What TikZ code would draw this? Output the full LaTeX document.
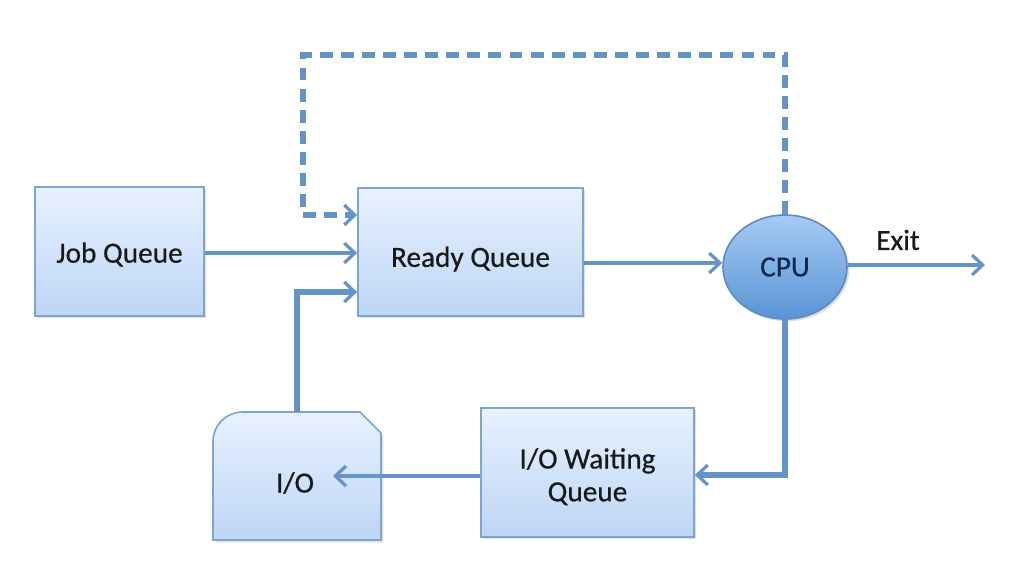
\documentclass[tikz,border=0pt]{standalone}
\usepackage{fontspec}
\setmainfont{Carlito}
\newfontfamily\lblfont{Carlito}[FakeBold=0.5]
\usetikzlibrary{arrows.meta,shadows,shapes.geometric}
\definecolor{ln}{RGB}{100,148,200}
\definecolor{bd}{RGB}{125,165,210}
\definecolor{ftop}{RGB}{232,241,255}
\definecolor{fbot}{RGB}{188,214,245}
\definecolor{ctop}{RGB}{165,203,242}
\definecolor{cbot}{RGB}{88,148,214}
\definecolor{cbd}{RGB}{95,140,195}
\definecolor{tx}{RGB}{25,25,25}
\definecolor{cputx}{RGB}{20,40,80}
\newcommand{\dropby}[2]{\raisebox{-#1}[\height][\depth]{#2}}
\tikzset{
  lbl/.style={font=\lblfont\fontsize{25}{28}\selectfont, text=tx, align=center},
  qbox/.style={draw=bd, line width=1.4pt, top color=ftop, bottom color=fbot, drop shadow={opacity=0.25,shadow xshift=2pt,shadow yshift=-2pt}, lbl, inner sep=0pt},
  conn/.style={draw=ln, line width=2.8pt, -{Straight Barb[length=9pt,width=17pt,line width=2.8pt]}},
  thick conn/.style={conn, line width=4.4pt},
  dconn/.style={conn, line width=4.4pt, dash pattern=on 11pt off 7pt},
}
\begin{document}
\begin{tikzpicture}[x=0.03cm,y=-0.03cm]
\useasboundingbox (0,0) rectangle (1024,576);
\node[qbox, minimum width=169*0.03cm, minimum height=129*0.03cm] (job) at (119.5,251.5) {\dropby{2.5pt}{Job Queue}};
\node[qbox, minimum width=225*0.03cm, minimum height=128*0.03cm] (ready) at (470.5,252) {\dropby{6pt}{Ready Queue}};
\node[qbox, minimum width=213*0.03cm, minimum height=129*0.03cm] (wait) at (587.5,472.5) {\dropby{5pt}{\begin{tabular}{@{}c@{}}I/O Waiting\\[0pt]Queue\end{tabular}}};
\node[draw=cbd, line width=1.4pt, ellipse, top color=ctop, bottom color=cbot, minimum width=124*0.03cm, minimum height=104*0.03cm, inner sep=0pt, lbl, text=cputx, drop shadow={opacity=0.25,shadow xshift=2pt,shadow yshift=-2pt}] (cpu) at (785,267) {CPU};
% I/O shape
\path[draw=bd, line width=1.4pt, top color=ftop, bottom color=fbot, drop shadow={opacity=0.25,shadow xshift=2pt,shadow yshift=-2pt}]
  (213,540) -- (213,442) .. controls (213,425) and (226,412) .. (243,412) -- (360,412) -- (381,433) -- (381,540) -- cycle;
\node[lbl] (io) at (295,483) {I/O};
\coordinate (iotop) at (297,412);
\coordinate (ioin) at (333,476);
\coordinate (exit) at (985,265);
\node[lbl] (exitlbl) at (898,240) {Exit};
% connectors
\draw[conn] (job.east |- 0,253) -- (ready.west |- 0,253);
\draw[conn] (ready.east |- 0,263) -- (cpu.west |- 0,263);
\draw[conn] (cpu.east |- 0,265) -- (exit);
\draw[thick conn] (cpu.south) -- (785,475) -- (wait.east |- 0,475);
\draw[conn] (wait.west |- 0,476) -- (ioin);
\draw[thick conn] (iotop) -- (297,292) -- (ready.west |- 0,292);
\draw[dconn] (cpu.north) -- (785,55) -- (303,55) -- (303,215) -- (ready.west |- 0,215);
\end{tikzpicture}
\end{document}
